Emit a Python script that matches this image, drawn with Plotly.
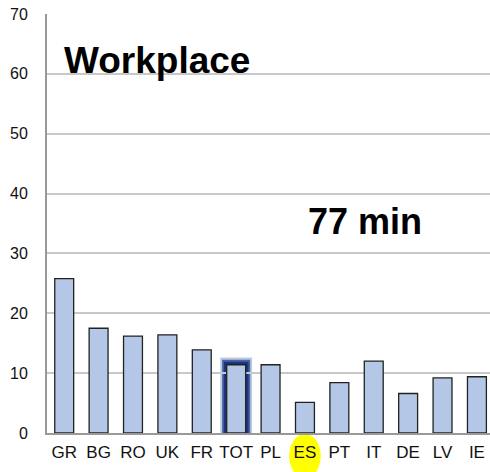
import plotly.graph_objects as go

countries = ["GR", "BG", "RO", "UK", "FR", "TOT", "PL", "ES", "PT", "IT", "DE", "LV", "IE"]
values = [25.8, 17.5, 16.2, 16.4, 13.9, 11.4, 11.4, 5.1, 8.4, 12.0, 6.6, 9.2, 9.4]
y_ticks = [0, 10, 20, 30, 40, 50, 60, 70]
BAR_W = 0.55

fig = go.Figure()
fig.add_trace(go.Bar(
    x=countries, y=values,
    marker=dict(color="#b4c7e7", line=dict(color="#222222", width=1.3)),
    width=BAR_W, showlegend=False,
))

# glow around TOT (rectangles derived from the TOT bar)
tot_idx = countries.index("TOT")
tot_val = values[tot_idx]
for pad, w, col in [(0.10, 6, "rgba(60,100,180,0.35)"), (0.06, 5, "rgba(35,65,140,0.75)"),
                    (0.025, 4, "rgba(25,50,120,0.95)")]:
    fig.add_shape(type="rect", xref="x", yref="y", layer="below",
                  x0=tot_idx - BAR_W / 2 - pad, x1=tot_idx + BAR_W / 2 + pad,
                  y0=0, y1=tot_val + pad * 7,
                  fillcolor="rgba(0,0,0,0)", line=dict(color=col, width=w))

# ES highlight ellipse
es_idx = countries.index("ES")
fig.add_shape(type="circle", xref="x", yref="paper",
              x0=es_idx - 0.46, x1=es_idx + 0.46, y0=-0.108, y1=-0.002,
              fillcolor="#ffff00", line=dict(width=0), layer="below")

fig.add_annotation(text="<b>Workplace</b>", x=0.034, y=0.890, xref="paper", yref="paper",
                   xanchor="left", yanchor="middle", showarrow=False,
                   font=dict(size=37, color="black", family="Liberation Sans, Arial"))
fig.add_annotation(text="<b>77 min</b>", x=0.585, y=0.504, xref="paper", yref="paper",
                   xanchor="left", yanchor="middle", showarrow=False,
                   font=dict(size=36, color="black", family="Liberation Sans, Arial"))

fig.update_layout(
    width=490, height=472,
    margin=dict(l=47, r=0, t=14, b=39, autoexpand=False),
    paper_bgcolor="white", plot_bgcolor="white",
    font=dict(family="Liberation Sans, Arial", size=17, color="#111111"),
    xaxis=dict(range=[-0.5, 12.38], showline=True, linecolor="#999999", linewidth=2,
               ticks="", showgrid=False, tickfont=dict(size=17), automargin=False,
               ticklabelstandoff=3),
    yaxis=dict(range=[0, 70], tickvals=y_ticks, showgrid=True, gridcolor="#c8c8c8",
               gridwidth=1.5, showline=True, linecolor="#999999", linewidth=2,
               ticks="", ticklabelstandoff=14, zeroline=False, tickfont=dict(size=16),
               automargin=False),
)

fig.write_html("out.html", config={"displayModeBar": False},
               post_script="document.body.style.margin='0px';")
